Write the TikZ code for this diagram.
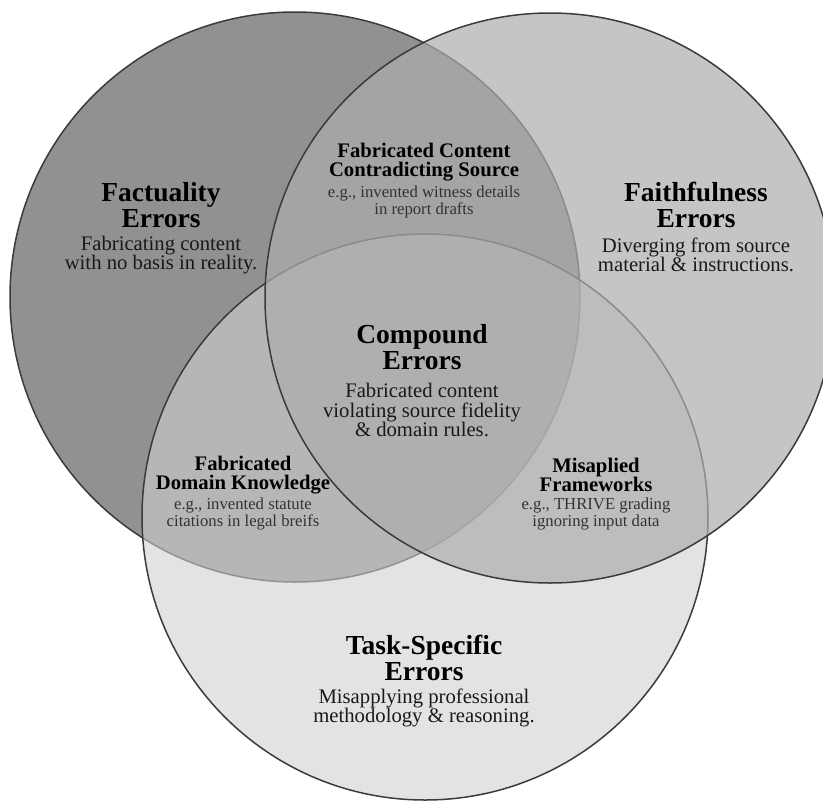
\documentclass[tikz,border=0pt]{standalone}
\usepackage{fontspec}
\setmainfont{Liberation Serif}
\usepackage{xcolor}
\definecolor{factfill}{gray}{0.57}
\definecolor{taskfill}{gray}{0.815}
\definecolor{faithfill}{gray}{0.68}
\definecolor{rim}{gray}{0.23}
\definecolor{egtext}{gray}{0.2}

\begin{document}
\begin{tikzpicture}[x=1pt,y=-1pt,
  venn/.style={draw=rim,line width=1.5pt},
  head/.style={font=\fontsize{27.5}{26}\selectfont\bfseries,align=center,inner sep=0pt},
  desc/.style={font=\fontsize{20.7}{19.2}\selectfont,align=center,inner sep=0pt,text=black!90},
  subhead/.style={font=\fontsize{20.7}{19}\selectfont\bfseries,align=center,inner sep=0pt},
  eg/.style={font=\fontsize{16.7}{15}\selectfont,align=center,inner sep=0pt,text=egtext}]
  \useasboundingbox (0,0) rectangle (823,801);
  \draw[venn,fill=factfill] (295,297) circle[radius=285pt];
  \draw[venn,fill=taskfill,fill opacity=.59] (425,517) circle[radius=283pt];
  \draw[venn,fill=faithfill,fill opacity=.7] (550,298) circle[radius=285pt];

  \path (161,205)
    node (facth) [head] {Factuality\\Errors} ++(0,50)
    node (factd) [desc] {Fabricating content\\with no basis in reality.}
    ;
  \path (696,205)
    node (faithh) [head] {Faithfulness\\Errors} ++(0,50)
    node (faithd) [desc] {Diverging from source\\material \& instructions.}
    ;
  \path (424,162)
    node (fcsh) [subhead] {Fabricated Content\\Contradicting Source} ++(0,40)
    node (fcse) [eg] {e.g., invented witness details\\in report drafts}
    ;
  \path (422,347)
    node (comph) [head] {Compound\\Errors} ++(0,63)
    node (compd) [desc] {Fabricated content\\violating source fidelity\\\& domain rules.}
    ;
  \path (243,475)
    node (fdkh) [subhead] {Fabricated\\Domain Knowledge} ++(0,39)
    node (fdke) [eg] {e.g., invented statute\\citations in legal breifs}
    ;
  \path (596,475)
    node (mfwh) [subhead] {Misaplied\\Frameworks} ++(0,39)
    node (mfwe) [eg] {e.g., THRIVE grading\\ignoring input data}
    ;
  \path (424,658)
    node (taskh) [head] {Task-Specific\\Errors} ++(0,50)
    node (taskd) [desc] {Misapplying professional\\methodology \& reasoning.}
    ;
\end{tikzpicture}
\end{document}
